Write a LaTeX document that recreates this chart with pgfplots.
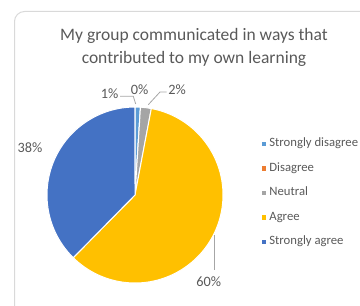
\documentclass[border=0pt]{standalone}
\usepackage{fontspec}
\setmainfont{Carlito}
\usepackage{pgfplots}
\usepackage{pgfplotstable}
\pgfplotsset{compat=1.18}
\definecolor{sd}{HTML}{5B9BD5}
\definecolor{di}{HTML}{ED7D31}
\definecolor{ne}{HTML}{A5A5A5}
\definecolor{ag}{HTML}{FFC000}
\definecolor{sa}{HTML}{4472C4}
\definecolor{txt}{HTML}{595959}
\definecolor{lead}{HTML}{A6A6A6}
\definecolor{frm}{HTML}{D9D9D9}

% share of answers (percent), colour, label position
\pgfplotstableread{
label value color lx ly
{Strongly disagree} 1 sd 109.7 212
Disagree 0 di 139.7 216.3
Neutral 2 ne 177 216
Agree 60 ag 208.8 24
{Strongly agree} 38 sa 30 158
}\piedata

\def\pietotal{0}
\pgfplotsforeachungrouped \i in {0,...,4}{%
  \pgfplotstablegetelem{\i}{value}\of\piedata
  \pgfmathsetmacro\pietotal{\pietotal+\pgfplotsretval}%
}
\pgfmathsetmacro\piescale{360/\pietotal}
\def\PieDraw{}
\def\PieLabels{}
\def\cum{0}
\pgfplotsforeachungrouped \i in {0,...,4}{%
  \pgfplotstablegetelem{\i}{value}\of\piedata \let\wv\pgfplotsretval
  \pgfplotstablegetelem{\i}{color}\of\piedata \let\wc\pgfplotsretval
  \pgfplotstablegetelem{\i}{lx}\of\piedata \let\wlx\pgfplotsretval
  \pgfplotstablegetelem{\i}{ly}\of\piedata \let\wly\pgfplotsretval
  \pgfmathsetmacro\wsa{90-\cum*\piescale}%
  \pgfmathsetmacro\cum{\cum+\wv}%
  \pgfmathsetmacro\wea{90-\cum*\piescale}%
  \xdef\PieDraw{\unexpanded\expandafter{\PieDraw}%
    \noexpand\fill[\wc, draw=white, line width=1bp] (axis cs:135,111) -- ++(\wsa:88bp)
      arc[start angle=\wsa, end angle=\wea, radius=88bp] -- cycle;}%
  \xdef\PieLabels{\unexpanded\expandafter{\PieLabels}%
    \noexpand\node[txt, font=\noexpand\labfont, inner sep=0pt] at (axis cs:\wlx,\wly) {\wv\%};}%
}
\newcommand\labfont{\fontsize{14.3bp}{17bp}\selectfont}

\begin{document}
\begin{tikzpicture}
\begin{axis}[
  at={(0,0)}, anchor=origin,
  x=1bp, y=1bp, xmin=0, xmax=360, ymin=0, ymax=306,
  hide axis, clip=false,
  legend style={draw=none, fill=none, inner sep=0pt, outer sep=0pt,
    font=\fontsize{12.7bp}{15bp}\selectfont, text=txt,
    row sep=12.5bp, column sep=3.5bp,
    nodes={inner sep=0pt, text height=9bp, text depth=3bp},
    at={(axis cs:261.7,168.4)}, anchor=north west},
  legend cell align=left,
  legend image code/.code={\fill[#1] (0bp,-1.9bp) rectangle (3.8bp,1.9bp);},
]
\draw[frm, line width=1bp, rounded corners=10bp] (axis cs:14.5,294.5) rectangle (axis cs:420,-40);
\node[txt, align=center, font=\fontsize{17.5bp}{23bp}\selectfont] at (axis cs:194,259)
  {My group communicated in ways that\\contributed to my own learning};
\PieDraw
\draw[lead, line width=0.8bp] (axis cs:120,209.7) -- (axis cs:133.3,209.7) -- (axis cs:135.7,202);
\draw[lead, line width=0.8bp] (axis cs:166.7,214) -- (axis cs:160,214) -- (axis cs:148.3,201.3);
\draw[lead, line width=0.8bp] (axis cs:214.3,71) -- (axis cs:214.3,36);
\PieLabels
\addlegendimage{sd}\addlegendentry{Strongly disagree}
\addlegendimage{di}\addlegendentry{Disagree}
\addlegendimage{ne}\addlegendentry{Neutral}
\addlegendimage{ag}\addlegendentry{Agree}
\addlegendimage{sa}\addlegendentry{Strongly agree}
\end{axis}
\pgfresetboundingbox
\path[use as bounding box] (0,0) rectangle (360bp,306bp);
\end{tikzpicture}
\end{document}
